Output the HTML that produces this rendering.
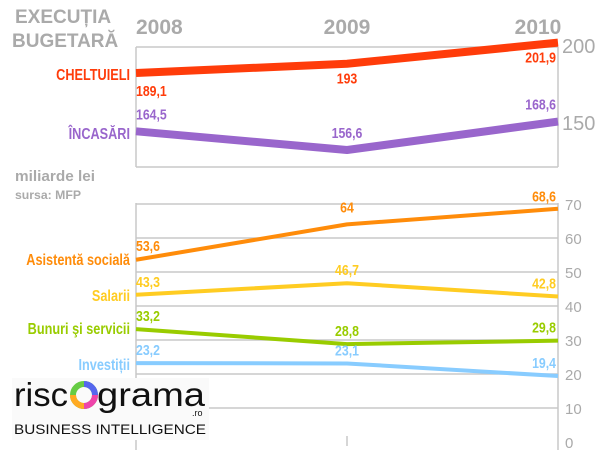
<!DOCTYPE html>
<html><head><meta charset="utf-8"><style>
body{margin:0;background:#fff;width:600px;height:450px;overflow:hidden;font-family:"Liberation Sans",sans-serif}
svg text{font-family:"Liberation Sans Narrow","Liberation Sans",sans-serif;font-weight:bold}
</style></head><body>
<svg id="c" width="600" height="450">
<g id="frame"></g>
<text x="15" y="23" font-size="19" fill="#aaa" style="font-family:'Liberation Sans',sans-serif">EXECUȚIA</text>
<text x="12" y="47" font-size="19" fill="#aaa" style="font-family:'Liberation Sans',sans-serif">BUGETARĂ</text>
<text x="15" y="181" font-size="15" fill="#aaa" textLength="80" lengthAdjust="spacingAndGlyphs">miliarde lei</text>
<text x="15" y="199" font-size="12" fill="#aaa" textLength="66" lengthAdjust="spacingAndGlyphs">sursa: MFP</text>
<g id="marks"></g>
<g>
<rect x="12" y="378" width="197" height="62" fill="#fafafa"/>
<text x="14" y="406" font-size="33" fill="#111" textLength="54" lengthAdjust="spacingAndGlyphs" style="font-family:'Liberation Sans',sans-serif;font-weight:normal">risc</text>
<circle cx="84" cy="395" r="11" fill="none" stroke="#66cc44" stroke-width="6"/>
<path d="M84 384 A11 11 0 0 1 95 395" fill="none" stroke="#5566ee" stroke-width="6"/>
<path d="M95 395 A11 11 0 0 1 84 406" fill="none" stroke="#ee44aa" stroke-width="6"/>
<path d="M84 406 A11 11 0 0 1 73 395" fill="none" stroke="#ffaa22" stroke-width="6"/>
<text x="97" y="406" font-size="33" fill="#111" textLength="108" lengthAdjust="spacingAndGlyphs" style="font-family:'Liberation Sans',sans-serif;font-weight:normal">grama</text>
<text x="192" y="416" font-size="9" fill="#111" style="font-weight:normal">.ro</text>
<text x="14" y="434" font-size="14" fill="#111" textLength="192" lengthAdjust="spacingAndGlyphs" style="font-family:'Liberation Sans',sans-serif;font-weight:normal">BUSINESS INTELLIGENCE</text>
</g>
</svg>
<script>
const years=["2008","2009","2010"];
const cheltuieli=[189.1,193,201.9];
const incasari=[164.5,156.6,168.6];
const asistenta=[53.6,64,68.6];
const salarii=[43.3,46.7,42.8];
const bunuri=[33.2,28.8,29.8];
const investitii=[23.2,23.1,19.4];
const bottomTicks=[0,10,20,30,40,50,60,70];
const topTicks=["200","150"];
const NS="http://www.w3.org/2000/svg";
const frame=document.getElementById('frame');
const marks=document.getElementById('marks');
const X0=136,X1=558;
const xs=i=>X0+i*(X1-X0)/(years.length-1);
const yTop=v=>73+(189.1-v)*2.37;
const yBot=v=>442-v*3.4;
const SX=0.82;
function mk(tag,attrs,parent){const e=document.createElementNS(NS,tag);for(const k in attrs)e.setAttribute(k,attrs[k]);parent.appendChild(e);return e;}
function narrow(x,y,size,color,anchor,txt,parent){
 const e=mk('text',{x:x/SX,y:y,'font-size':size,fill:color,'text-anchor':anchor,transform:'scale('+SX+' 1)'},parent);
 e.textContent=txt;return e;}
const G="#c8c8c8";
let e;
e=mk('line',{x1:X0,y1:47,x2:X1,y2:47,stroke:G,'stroke-width':1.5},frame);


e=mk('line',{x1:X0,y1:167,x2:X1,y2:167,stroke:G,'stroke-width':1.5},frame);


e=mk('line',{x1:X0,y1:47,x2:X0,y2:167,stroke:G,'stroke-width':1.5},frame);


e=mk('line',{x1:X1,y1:47,x2:X1,y2:167,stroke:G,'stroke-width':1.5},frame);


const topTickY=[45,122];
topTicks.forEach((t,i)=>{const el=mk('text',{x:562,y:topTickY[i]+8,'font-size':20,fill:'#aaa'},frame);el.textContent=t;el.style.fontFamily="'Liberation Sans',sans-serif";el.style.fontWeight="normal";

});
years.forEach((y,i)=>{const el=mk('text',{x:xs(i)+(i==2?-20:0),y:34,'font-size':21,fill:'#aaa','text-anchor':i==0?'start':'middle'},frame);el.textContent=y;el.style.fontFamily="'Liberation Sans',sans-serif";

});
bottomTicks.forEach(t=>{const y=yBot(t);
if(t>0){const l=mk('line',{x1:X0,y1:y,x2:X1,y2:y,stroke:G,'stroke-width':1.5},frame);

}
const el=mk('text',{x:565,y:y+6,'font-size':15,fill:'#aaa'},frame);el.textContent=t;el.style.fontWeight="normal";

});
e=mk('line',{x1:X0,y1:yBot(70)-1,x2:X0,y2:450,stroke:G,'stroke-width':1.5},frame);


e=mk('line',{x1:X1,y1:yBot(70)-1,x2:X1,y2:450,stroke:G,'stroke-width':1.5},frame);


e=mk('line',{x1:xs(1),y1:436,x2:xs(1),y2:446,stroke:G,'stroke-width':1.5},frame);


function series(name,label,data,yf,color,w,labY,labOff,fs){
 const pts=data.map((v,i)=>xs(i)+','+yf(v)).join(' ');
 const p=mk('polyline',{points:pts,fill:'none',stroke:color,'stroke-width':w,'stroke-linejoin':'round'},marks);
 
 
 const t=narrow(130,labY,fs,color,'end',label,marks);
 
 
 data.forEach((v,i)=>{const anchor=i==0?'start':(i==2?'end':'middle');
  const el=narrow(xs(i)+(i==2?-2:0),yf(v)+labOff[i],15,color,anchor,String(v).replace('.',','),marks);
  
  });
}
series('cheltuieli','CHELTUIELI',cheltuieli,yTop,'#ff3c0a',8,80,[23,20,20],15.5);
series('incasari','ÎNCASĂRI',incasari,yTop,'#9966cc',8,139,[-12,-12,-12],15.5);
series('asistenta','Asistentă socială',asistenta,yBot,'#ff8c0a',4,265,[-9,-12,-7],15.5);
series('salarii','Salarii',salarii,yBot,'#ffcc22',4,301,[-8,-8,-8],15.5);
series('bunuri','Bunuri şi servicii',bunuri,yBot,'#99cc00',4,334,[-8,-8,-8],15.5);
series('investitii','Investiții',investitii,yBot,'#88ccff',4,370,[-8,-8,-8],15.5);
</script>
</body></html>
